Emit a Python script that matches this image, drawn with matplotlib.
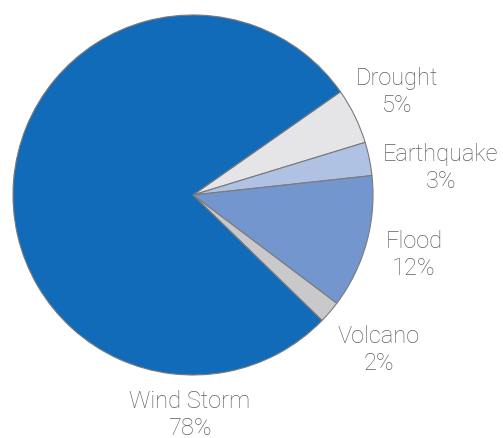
import matplotlib.pyplot as plt

# datos del gráfico
categorias = ["Drought", "Earthquake", "Flood", "Volcano", "Wind Storm"]
porcentajes = [5, 3, 12, 2, 78]
colores = ["#e5e5e8", "#b0c2e3", "#7496cf", "#c9c9cc", "#126bb8"]

# posiciones de las etiquetas (en píxeles, origen arriba a la izquierda)
pos_etiquetas = [(397, 92), (441, 168), (414, 255), (379, 350), (190, 415)]

W, H = 503, 439
fig = plt.figure(figsize=(W / 100, H / 100), dpi=100)
ax = fig.add_axes([0, 0, 1, 1])

ax.pie(porcentajes, colors=colores, startangle=35, counterclock=False,
       center=(193, H - 196), radius=180,
       wedgeprops=dict(edgecolor="#7a7a7a", linewidth=0.8))

for cat, p, (x, y) in zip(categorias, porcentajes, pos_etiquetas):
    ax.text(x, H - y, f"{cat}\n{p}%", ha="center", va="center",
            fontsize=17, color="#5e5e5e", family="Roboto", fontweight="light",
            linespacing=1.2)

ax.set_xlim(0, W)
ax.set_ylim(0, H)
ax.set_aspect("equal")
ax.axis("off")

plt.savefig("out.png", dpi=100)
